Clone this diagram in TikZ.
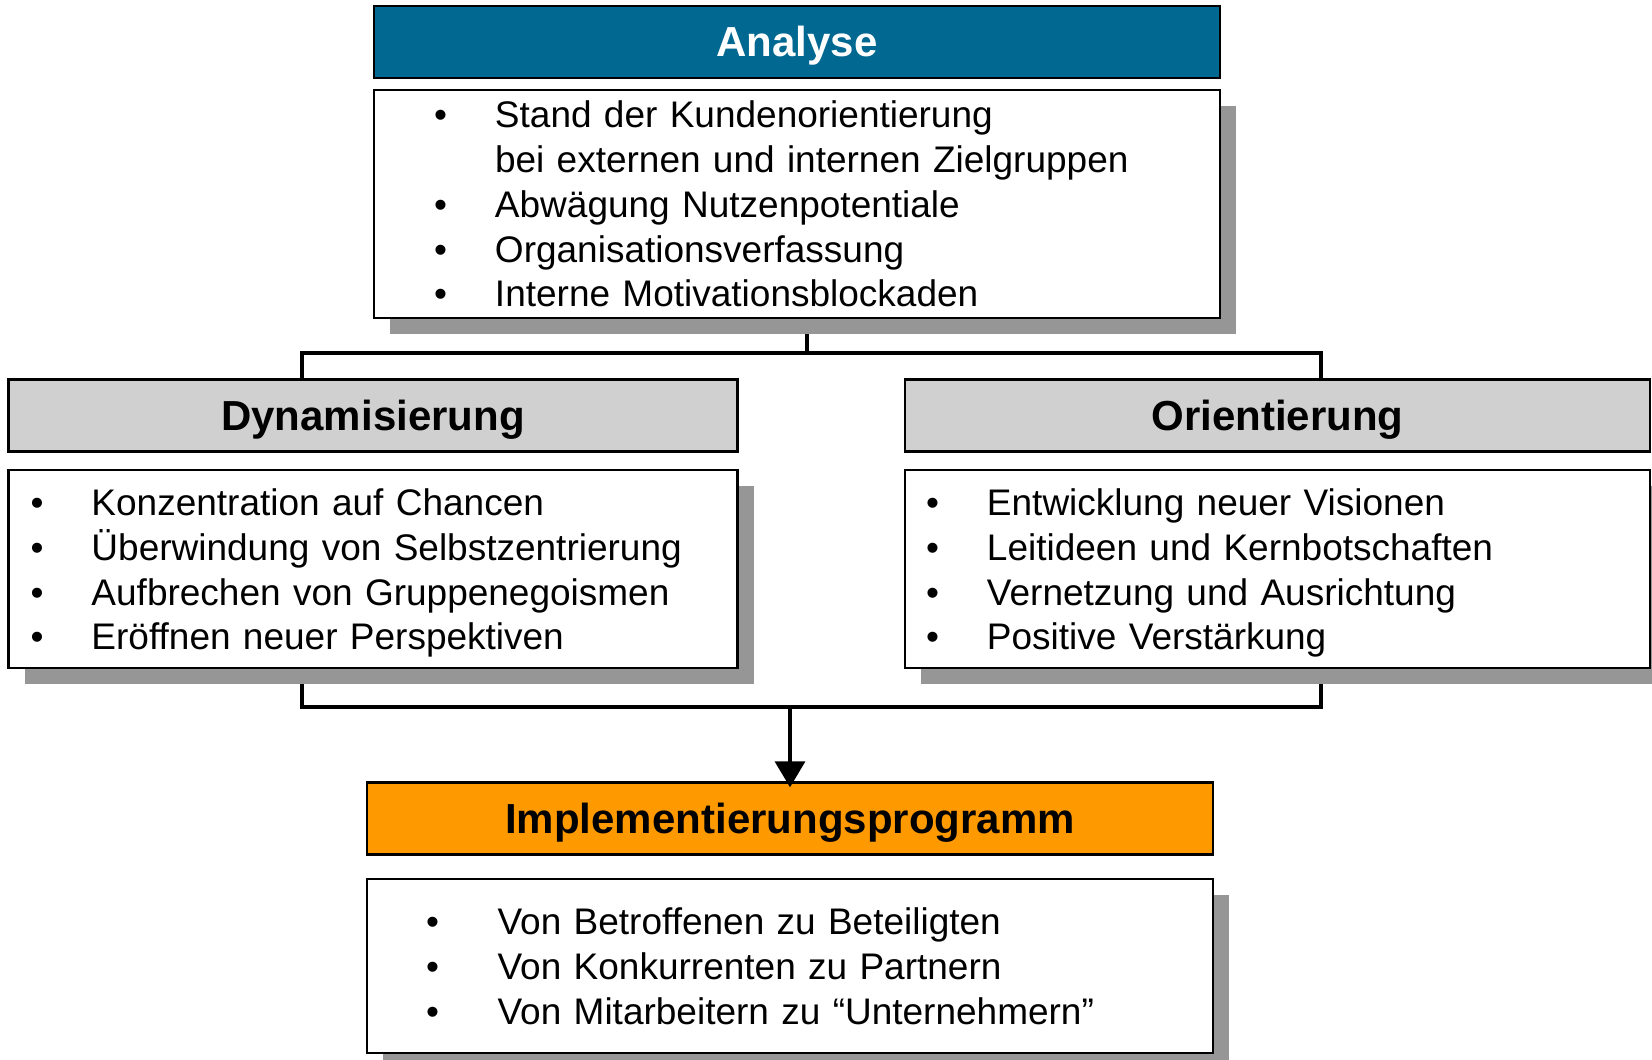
\documentclass[tikz,border=0pt]{standalone}
\usepackage{fontspec}
\setmainfont{Liberation Sans}
\usetikzlibrary{shadows,backgrounds,arrows.meta}
\definecolor{analyseblue}{RGB}{0,104,145}
\definecolor{headgray}{RGB}{208,208,208}
\definecolor{implorange}{RGB}{255,153,0}
\definecolor{shadowgray}{RGB}{150,150,150}
\newcommand{\bul}[1][27.5pt]{\hspace*{-3pt}\makebox[\dimexpr#1+3pt\relax][l]{\textbullet}}
\newcommand{\ind}{\hspace*{27.5pt}}
\newcommand{\tallstrut}{\rule{0pt}{17.5pt}}
\tikzset{
  head/.style={draw, line width=1.2pt, inner sep=0pt, minimum height=36pt,
    text height=14.5pt, text depth=0pt,
    font=\fontsize{21pt}{25pt}\selectfont\bfseries},
  body/.style={draw, fill=white, line width=1.2pt, inner ysep=0pt, align=left,
    font=\fontsize{18.5pt}{22.4pt}\selectfont,
    drop shadow={shadow xshift=8pt, shadow yshift=-8pt, fill=shadowgray, opacity=1}},
  link/.style={line width=1.8pt}
}
\begin{document}
\begin{tikzpicture}[x=0.5pt, y=-0.5pt]
			\useasboundingbox (0,0) rectangle (1652,1059);
			\node[head, fill=analyseblue, text=white, minimum width=423pt] (anah) at (797,42) {Analyse};
			\node[body, minimum height=114pt, inner xsep=33pt, text width=357pt] (anab) at (797,204) {%
				\bul Stand der Kundenorientierung\\
				\ind bei externen und internen Zielgruppen\\
				\bul Abwägung Nutzenpotentiale\\
				\bul Organisationsverfassung\\
				\bul Interne Motivationsblockaden};
			\node[head, fill=headgray, minimum width=364.5pt] (dynh) at (373,415.5) {Dynamisierung};
			\node[body, minimum height=99pt, inner xsep=14pt, text width=336.5pt] (dynb) at (373,569) {%
				\tallstrut\bul Konzentration auf Chancen\\
				\bul Überwindung von Selbstzentrierung\\
				\bul Aufbrechen von Gruppenegoismen\\
				\bul Eröffnen neuer Perspektiven};
			\node[head, fill=headgray, minimum width=372.5pt] (orih) at (1277.5,415.5) {Orientierung};
			\node[body, minimum height=99pt, inner xsep=13.5pt, text width=345.5pt] (orib) at (1277.5,569) {%
				\tallstrut\bul Entwicklung neuer Visionen\\
				\bul Leitideen und Kernbotschaften\\
				\bul Vernetzung und Ausrichtung\\
				\bul Positive Verstärkung};
			\node[head, fill=implorange, minimum width=423pt] (implh) at (790,818.5) {Implementierungsprogramm};
			\node[body, minimum height=87pt, inner xsep=32.5pt, text width=358pt] (implb) at (790,966) {%
				\bul[32.8pt]Von Betroffenen zu Beteiligten\\
				\bul[32.8pt]Von Konkurrenten zu Partnern\\
				\bul[32.8pt]Von Mitarbeitern zu “Unternehmern”};
			\coordinate (jt) at (807,353);
			\coordinate (jl) at (302,353);
			\coordinate (jr) at (1321,353);
			\coordinate (kl) at (302,707);
			\coordinate (kr) at (1321,707);
			\coordinate (kc) at (implh.north |- kl);
			\begin{scope}[on background layer]
				\draw[link] (anab.south -| jt) -- (jt);
				\draw[link] (dynh.north -| jl) -- (jl) -- (jr) -- (orih.north -| jr);
				\draw[link] (dynb.south -| kl) -- (kl) -- (kr) -- (orib.south -| kr);
			\end{scope}
			\draw[link, shorten >=-3pt, -{Triangle[length=13pt, width=15pt]}] (kc) -- (implh.north);
		\end{tikzpicture}
\end{document}
